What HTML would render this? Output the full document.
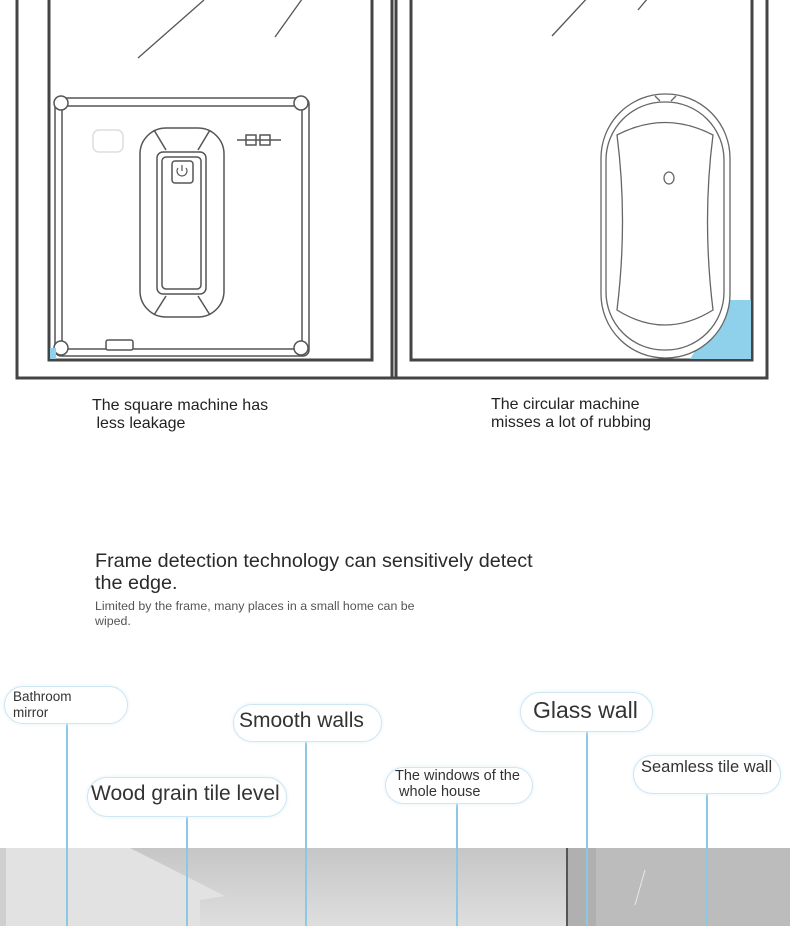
<!DOCTYPE html>
<html><head><meta charset="utf-8"><style>
html,body{margin:0;padding:0;background:#fff;}
body{width:790px;height:926px;position:relative;overflow:hidden;font-family:"Liberation Sans",sans-serif;color:#333;}
.t{position:absolute;white-space:nowrap;}
.pill{position:absolute;border:1.5px solid #cfe6f3;border-radius:20px;background:#fff;color:#333;box-shadow:0 0 4px #e3f1f9;box-sizing:border-box;white-space:nowrap;}
.ln{position:absolute;width:2px;background:#8cc8e6;}
</style></head><body>
<svg width="790" height="926" style="position:absolute;left:0;top:0">
<defs>
<linearGradient id="g" x1="0" y1="0" x2="0" y2="1"><stop offset="0" stop-color="#c6c6c6"/><stop offset="1" stop-color="#dedede"/></linearGradient>
</defs>
<rect x="0" y="848" width="790" height="78" fill="url(#g)"/>
<polygon points="0,848 130,848 225,896 200,900 200,926 0,926" fill="#e2e2e2"/>
<rect x="0" y="848" width="6" height="78" fill="#cfcfcf"/>
<rect x="566" y="848" width="224" height="78" fill="#bcbcbc"/>
<rect x="568" y="848" width="28" height="78" fill="#b0b0b0"/>
<line x1="567" y1="848" x2="567" y2="926" stroke="#555" stroke-width="2"/>
<line x1="645" y1="870" x2="635" y2="905" stroke="#e8e8e8" stroke-width="1"/>
<g stroke="#444" fill="none" stroke-width="3">
<polyline points="17,0 17,378 767,378 767,0"/>
<line x1="392" y1="0" x2="392" y2="378"/>
<line x1="396" y1="0" x2="396" y2="378"/>
<polyline points="49,0 49,360 372,360 372,0"/>
<polyline points="411,0 411,360 752,360 752,0"/>
</g>
<g stroke="#555" stroke-width="1.3">
<line x1="138" y1="58" x2="204" y2="0"/>
<line x1="275" y1="37" x2="305" y2="-5"/><line x1="552" y1="36" x2="590" y2="-5"/><line x1="638" y1="10" x2="648" y2="-2"/>
</g>
<g stroke="#555" fill="#fff" stroke-width="1.5">
<rect x="55" y="98" width="254" height="258" rx="6"/>
<rect x="62" y="106" width="240" height="243" rx="4" fill="none"/>
<circle cx="61" cy="103" r="7"/><circle cx="301" cy="103" r="7"/><circle cx="61" cy="348" r="7"/><circle cx="301" cy="348" r="7"/>
<rect x="93" y="130" width="30" height="22" rx="6" stroke="#ddd"/>
<rect x="140" y="128" width="84" height="189" rx="26"/>
<rect x="157" y="152" width="49" height="142" rx="6"/>
<rect x="162" y="157" width="39" height="132" rx="4" fill="none"/>
<rect x="172" y="161" width="21" height="22" rx="3"/>
<line x1="154" y1="130" x2="166" y2="150"/><line x1="210" y1="130" x2="198" y2="150"/>
<line x1="154" y1="315" x2="166" y2="296"/><line x1="210" y1="315" x2="198" y2="296"/>
<rect x="106" y="340" width="27" height="10" rx="2"/>
<line x1="237" y1="140" x2="281" y2="140"/><rect x="246" y="135" width="10" height="10" fill="none"/><rect x="260" y="135" width="10" height="10" fill="none"/>
</g>
<path d="M178,168 a5,5 0 1,0 8,0 M182,165 v6" stroke="#555" fill="none" stroke-width="1.2"/>
<polygon points="50,348 56,348 56,359 50,359" fill="#8fd0ea"/>
<polygon points="728,300 751,300 751,359 690,359" fill="#8fd0ea"/>
<g stroke="#666" fill="none" stroke-width="1.3">
<rect x="601" y="94" width="129" height="264" rx="64" fill="#fff"/>
<rect x="606" y="102" width="118" height="248" rx="58"/>
<path d="M617,135 Q665,110 713,135 Q702,220 713,310 Q665,340 617,310 Q628,220 617,135Z"/>
<ellipse cx="669" cy="178" rx="5" ry="6"/>
<line x1="655" y1="96" x2="660" y2="101"/><line x1="676" y1="96" x2="671" y2="101"/>
</g>
</svg>
<div class="t" style="left:92px;top:397px;font-size:16px;line-height:18px;color:#222">The square machine has<br>&nbsp;less leakage</div>
<div class="t" style="left:491px;top:396px;font-size:16px;line-height:18px;color:#222">The circular machine<br>misses a lot of rubbing</div>
<div class="t" style="left:95px;top:550px;font-size:19.8px;line-height:22px;color:#2a2a2a">Frame detection technology can sensitively detect<br>the edge.</div>
<div class="t" style="left:95px;top:599px;font-size:12.4px;line-height:14.5px;color:#555">Limited by the frame, many places in a small home can be<br>wiped.</div>

<div class="ln" style="left:66px;top:722px;height:204px"></div>
<div class="ln" style="left:186px;top:815px;height:111px"></div>
<div class="ln" style="left:305px;top:742px;height:184px"></div>
<div class="ln" style="left:456px;top:803px;height:123px"></div>
<div class="ln" style="left:586px;top:732px;height:194px"></div>
<div class="ln" style="left:706px;top:793px;height:133px"></div>

<div class="pill" style="left:4px;top:686px;width:124px;height:38px;font-size:13.5px;line-height:16px;padding:2px 0 0 8px">Bathroom<br>mirror</div>
<div class="pill" style="left:233px;top:704px;width:149px;height:38px;font-size:21px;line-height:32px;padding-left:5px">Smooth walls</div>
<div class="pill" style="left:87px;top:777px;width:200px;height:40px;font-size:21px;line-height:32px;padding-left:3px">Wood grain tile level</div>
<div class="pill" style="left:385px;top:767px;width:148px;height:37px;font-size:14.5px;line-height:16px;padding:0 0 0 9px">The windows of the<br>&nbsp;whole house</div>
<div class="pill" style="left:520px;top:692px;width:133px;height:40px;font-size:23px;line-height:34px;padding-left:12px">Glass wall</div>
<div class="pill" style="left:633px;top:755px;width:148px;height:39px;font-size:16.5px;line-height:22px;padding-left:7px">Seamless tile wall</div>
</body></html>
